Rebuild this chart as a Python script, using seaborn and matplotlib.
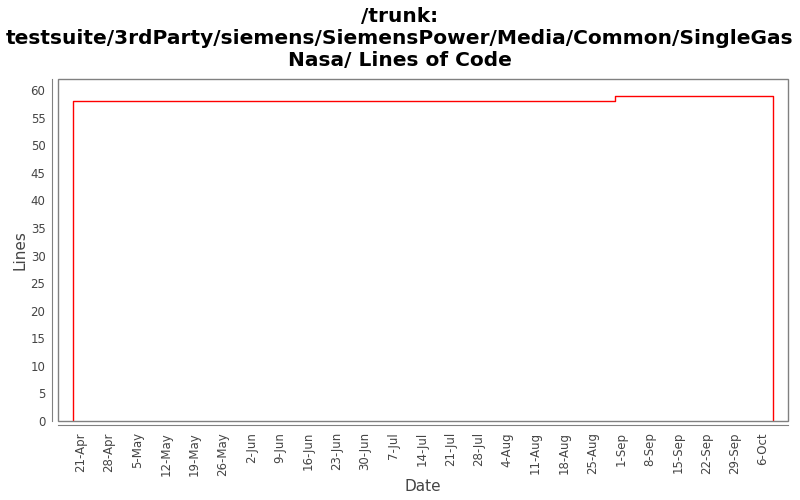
import matplotlib
matplotlib.use("Agg")
import matplotlib.pyplot as plt
import matplotlib.dates as mdates
from matplotlib.patches import Rectangle
import seaborn as sns
import pandas as pd

dates = ["2008-04-19 00:00", "2008-04-19 00:00", "2008-08-30 12:00", "2008-10-08 12:00", "2008-10-08 12:00"]
lines = [0, 58, 59, 59, 0]
title = "/trunk:\ntestsuite/3rdParty/siemens/SiemensPower/Media/Common/SingleGas\nNasa/ Lines of Code"

df = pd.DataFrame({"Date": pd.to_datetime(dates, format="%Y-%m-%d %H:%M"), "Lines": lines})

sns.set_style("white")
plt.rcParams["font.family"] = ["DejaVu Sans"]

fig = plt.figure(figsize=(8, 5), dpi=100)
ax = fig.add_axes([0.0725, 0.158, 0.9125, 0.684])

sns.lineplot(data=df, x="Date", y="Lines", ax=ax, estimator=None, sort=False,
             color="red", linewidth=1.0, drawstyle="steps-post")

ax.set_xlim(pd.Timestamp("2008-04-15 10:00"), pd.Timestamp("2008-10-12 03:00"))
ax.set_ylim(0, 62)
ax.set_yticks(range(0, 61, 5))
ax.xaxis.set_major_locator(mdates.WeekdayLocator(byweekday=mdates.MO))
ax.xaxis.set_major_formatter(mdates.DateFormatter("%-d-%b"))

gray = "#808080"
for s in ["top", "right"]:
    ax.spines[s].set_visible(False)
ax.spines["left"].set_position(("outward", 4))
ax.spines["bottom"].set_position(("outward", 3))
ax.spines["left"].set_color(gray)
ax.spines["bottom"].set_color(gray)
ax.add_patch(Rectangle((0, 0), 1, 1, transform=ax.transAxes, fill=False,
                       edgecolor=gray, linewidth=1.0, clip_on=False, zorder=5))

ax.tick_params(axis="both", which="major", length=3, width=0.8, color=gray,
               labelsize=8.5, labelcolor="#444444", direction="out", pad=2)
ax.tick_params(axis="x", labelrotation=90)
ax.set_xlabel("Date", fontsize=11, color="#444444", labelpad=2)
ax.set_ylabel("Lines", fontsize=11, color="#444444", labelpad=2)

fig.suptitle(title, fontsize=14.5, fontweight="bold", color="black",
             y=0.987, linespacing=1.22)

fig.savefig("out.png", dpi=100)
